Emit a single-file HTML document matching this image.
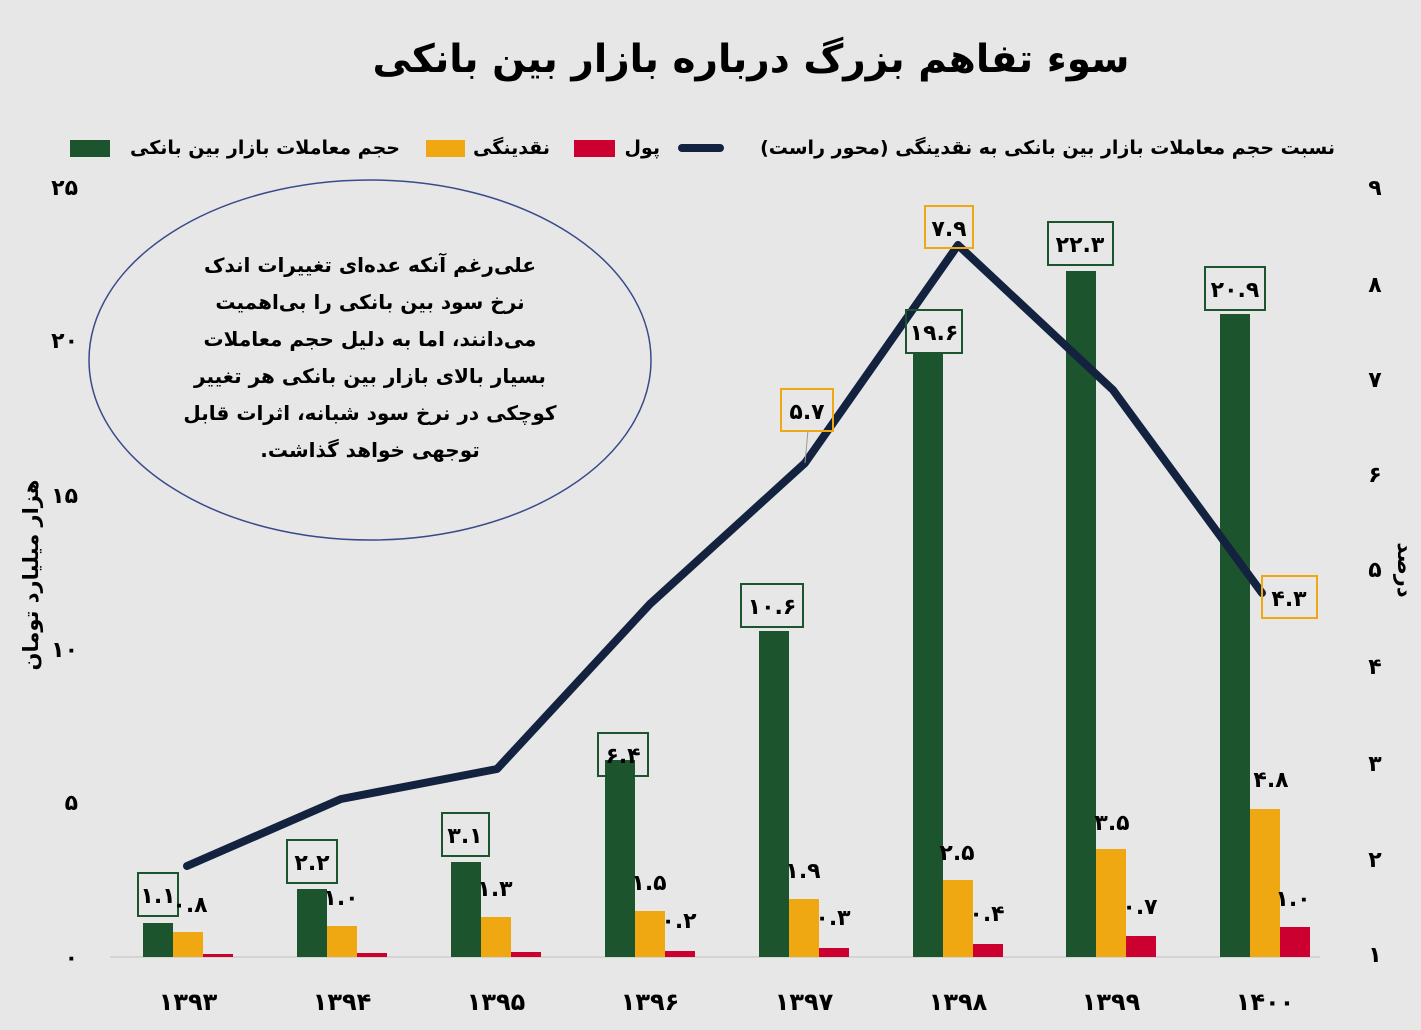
<!DOCTYPE html>
<html><head><meta charset="utf-8"><style>
body{margin:0;background:#e7e7e7;}
svg{display:block;font-family:"DejaVu Sans","Liberation Sans",sans-serif;font-weight:bold;}
</style></head><body>
<svg width="1421" height="1030" viewBox="0 0 1421 1030" xmlns="http://www.w3.org/2000/svg">
<rect width="1421" height="1030" fill="#e7e7e7"/>
<text x="751" y="72" font-size="39" text-anchor="middle" direction="rtl" fill="#000">سوء تفاهم بزرگ درباره بازار بین بانکی</text>
<!-- legend -->
<rect x="70" y="140" width="40" height="17" fill="#1c542d"/>
<text x="400" y="154" font-size="19" text-anchor="end">حجم معاملات بازار بین بانکی</text>
<rect x="426" y="140" width="39" height="17" fill="#efa812"/>
<text x="550" y="154" font-size="19" text-anchor="end">نقدینگی</text>
<rect x="574" y="140" width="41" height="17" fill="#cc0030"/>
<text x="660" y="154" font-size="19" text-anchor="end">پول</text>
<line x1="682" y1="148" x2="720" y2="148" stroke="#13233f" stroke-width="8" stroke-linecap="round"/>
<text x="1335" y="154" font-size="19" text-anchor="end">نسبت حجم معاملات بازار بین بانکی به نقدینگی (محور راست)</text>
<!-- axes labels -->
<g font-size="22" text-anchor="end">
<text x="78" y="195">۲۵</text><text x="78" y="348">۲۰</text><text x="78" y="503">۱۵</text>
<text x="78" y="657">۱۰</text><text x="78" y="810">۵</text><text x="78" y="965">۰</text>
</g>
<g font-size="22" text-anchor="middle">
<text x="1375" y="195">۹</text><text x="1375" y="292">۸</text><text x="1375" y="387">۷</text>
<text x="1375" y="482">۶</text><text x="1375" y="577">۵</text><text x="1375" y="674">۴</text>
<text x="1375" y="771">۳</text><text x="1375" y="867">۲</text><text x="1375" y="962">۱</text>
</g>
<text transform="translate(38,575) rotate(-90)" font-size="21" text-anchor="middle">هزار میلیارد تومان</text>
<text transform="translate(1398,570) rotate(90)" font-size="21" text-anchor="middle">درصد</text>
<!-- ellipse -->
<ellipse cx="370" cy="360" rx="281" ry="180" fill="none" stroke="#3a4a8a" stroke-width="1.5"/>
<g font-size="20" text-anchor="middle" direction="rtl">
<text x="370" y="272">علی‌رغم آنکه عده‌ای تغییرات اندک</text>
<text x="370" y="309">نرخ سود بین بانکی را بی‌اهمیت</text>
<text x="370" y="346">می‌دانند، اما به دلیل حجم معاملات</text>
<text x="370" y="383">بسیار بالای بازار بین بانکی هر تغییر</text>
<text x="370" y="420">کوچکی در نرخ سود شبانه، اثرات قابل</text>
<text x="370" y="457">توجهی خواهد گذاشت.</text>
</g>
<line x1="110" y1="957" x2="1320" y2="957" stroke="#d4d4d4" stroke-width="2"/>
<!-- bars -->
<g fill="#1c542d">
<rect x="143" y="923" width="30" height="34"/><rect x="297" y="889" width="30" height="68"/>
<rect x="451" y="862" width="30" height="95"/><rect x="605" y="760" width="30" height="197"/>
<rect x="759" y="631" width="30" height="326"/><rect x="913" y="354" width="30" height="603"/>
<rect x="1066" y="271" width="30" height="686"/><rect x="1220" y="314" width="30" height="643"/>
</g>
<g fill="#efa812">
<rect x="173" y="932" width="30" height="25"/><rect x="327" y="926" width="30" height="31"/>
<rect x="481" y="917" width="30" height="40"/><rect x="635" y="911" width="30" height="46"/>
<rect x="789" y="899" width="30" height="58"/><rect x="943" y="880" width="30" height="77"/>
<rect x="1096" y="849" width="30" height="108"/><rect x="1250" y="809" width="30" height="148"/>
</g>
<g fill="#cc0030">
<rect x="203" y="954" width="30" height="3"/><rect x="357" y="953" width="30" height="4"/>
<rect x="511" y="952" width="30" height="5"/><rect x="665" y="951" width="30" height="6"/>
<rect x="819" y="948" width="30" height="9"/><rect x="973" y="944" width="30" height="13"/>
<rect x="1126" y="936" width="30" height="21"/><rect x="1280" y="927" width="30" height="30"/>
</g>
<!-- line -->
<polyline points="187,866 341,799 497,769 650,604 805,463 958,245 1113,390 1262,593" fill="none" stroke="#13233f" stroke-width="8" stroke-linejoin="round" stroke-linecap="round"/>
<line x1="805" y1="463" x2="808" y2="430" stroke="#999" stroke-width="1"/>
<!-- green labels -->
<g fill="none" stroke="#1c542d" stroke-width="2">
<rect x="138" y="873" width="40" height="43"/><rect x="287" y="840" width="50" height="43"/>
<rect x="442" y="813" width="47" height="43"/><rect x="598" y="733" width="50" height="43"/>
<rect x="741" y="584" width="62" height="43"/><rect x="906" y="310" width="56" height="43"/>
<rect x="1048" y="222" width="65" height="43"/><rect x="1205" y="267" width="60" height="43"/>
</g>
<g fill="none" stroke="#efa812" stroke-width="2">
<rect x="925" y="206" width="48" height="42"/><rect x="781" y="389" width="52" height="42"/>
<rect x="1262" y="576" width="55" height="42"/>
</g>
<g font-size="22" text-anchor="middle">
<text x="158" y="903">۱.۱</text><text x="312" y="870">۲.۲</text><text x="465" y="843">۳.۱</text>
<text x="623" y="763">۶.۴</text><text x="772" y="614">۱۰.۶</text><text x="934" y="340">۱۹.۶</text>
<text x="1080" y="252">۲۲.۳</text><text x="1235" y="297">۲۰.۹</text>
<text x="949" y="236">۷.۹</text><text x="807" y="419">۵.۷</text><text x="1289" y="606">۴.۳</text>
<text x="190" y="912">۰.۸</text><text x="341" y="905">۱.۰</text><text x="495" y="896">۱.۳</text>
<text x="649" y="890">۱.۵</text><text x="803" y="878">۱.۹</text><text x="957" y="860">۲.۵</text>
<text x="1112" y="830">۳.۵</text><text x="1271" y="787">۴.۸</text>
<text x="679" y="928">۰.۲</text><text x="833" y="925">۰.۳</text><text x="987" y="921">۰.۴</text>
<text x="1140" y="914">۰.۷</text><text x="1293" y="906">۱.۰</text>
</g>
<g font-size="24" text-anchor="middle">
<text x="188" y="1010">۱۳۹۳</text><text x="342" y="1010">۱۳۹۴</text><text x="496" y="1010">۱۳۹۵</text>
<text x="650" y="1010">۱۳۹۶</text><text x="804" y="1010">۱۳۹۷</text><text x="958" y="1010">۱۳۹۸</text>
<text x="1111" y="1010">۱۳۹۹</text><text x="1265" y="1010">۱۴۰۰</text>
</g>
</svg>
</body></html>
